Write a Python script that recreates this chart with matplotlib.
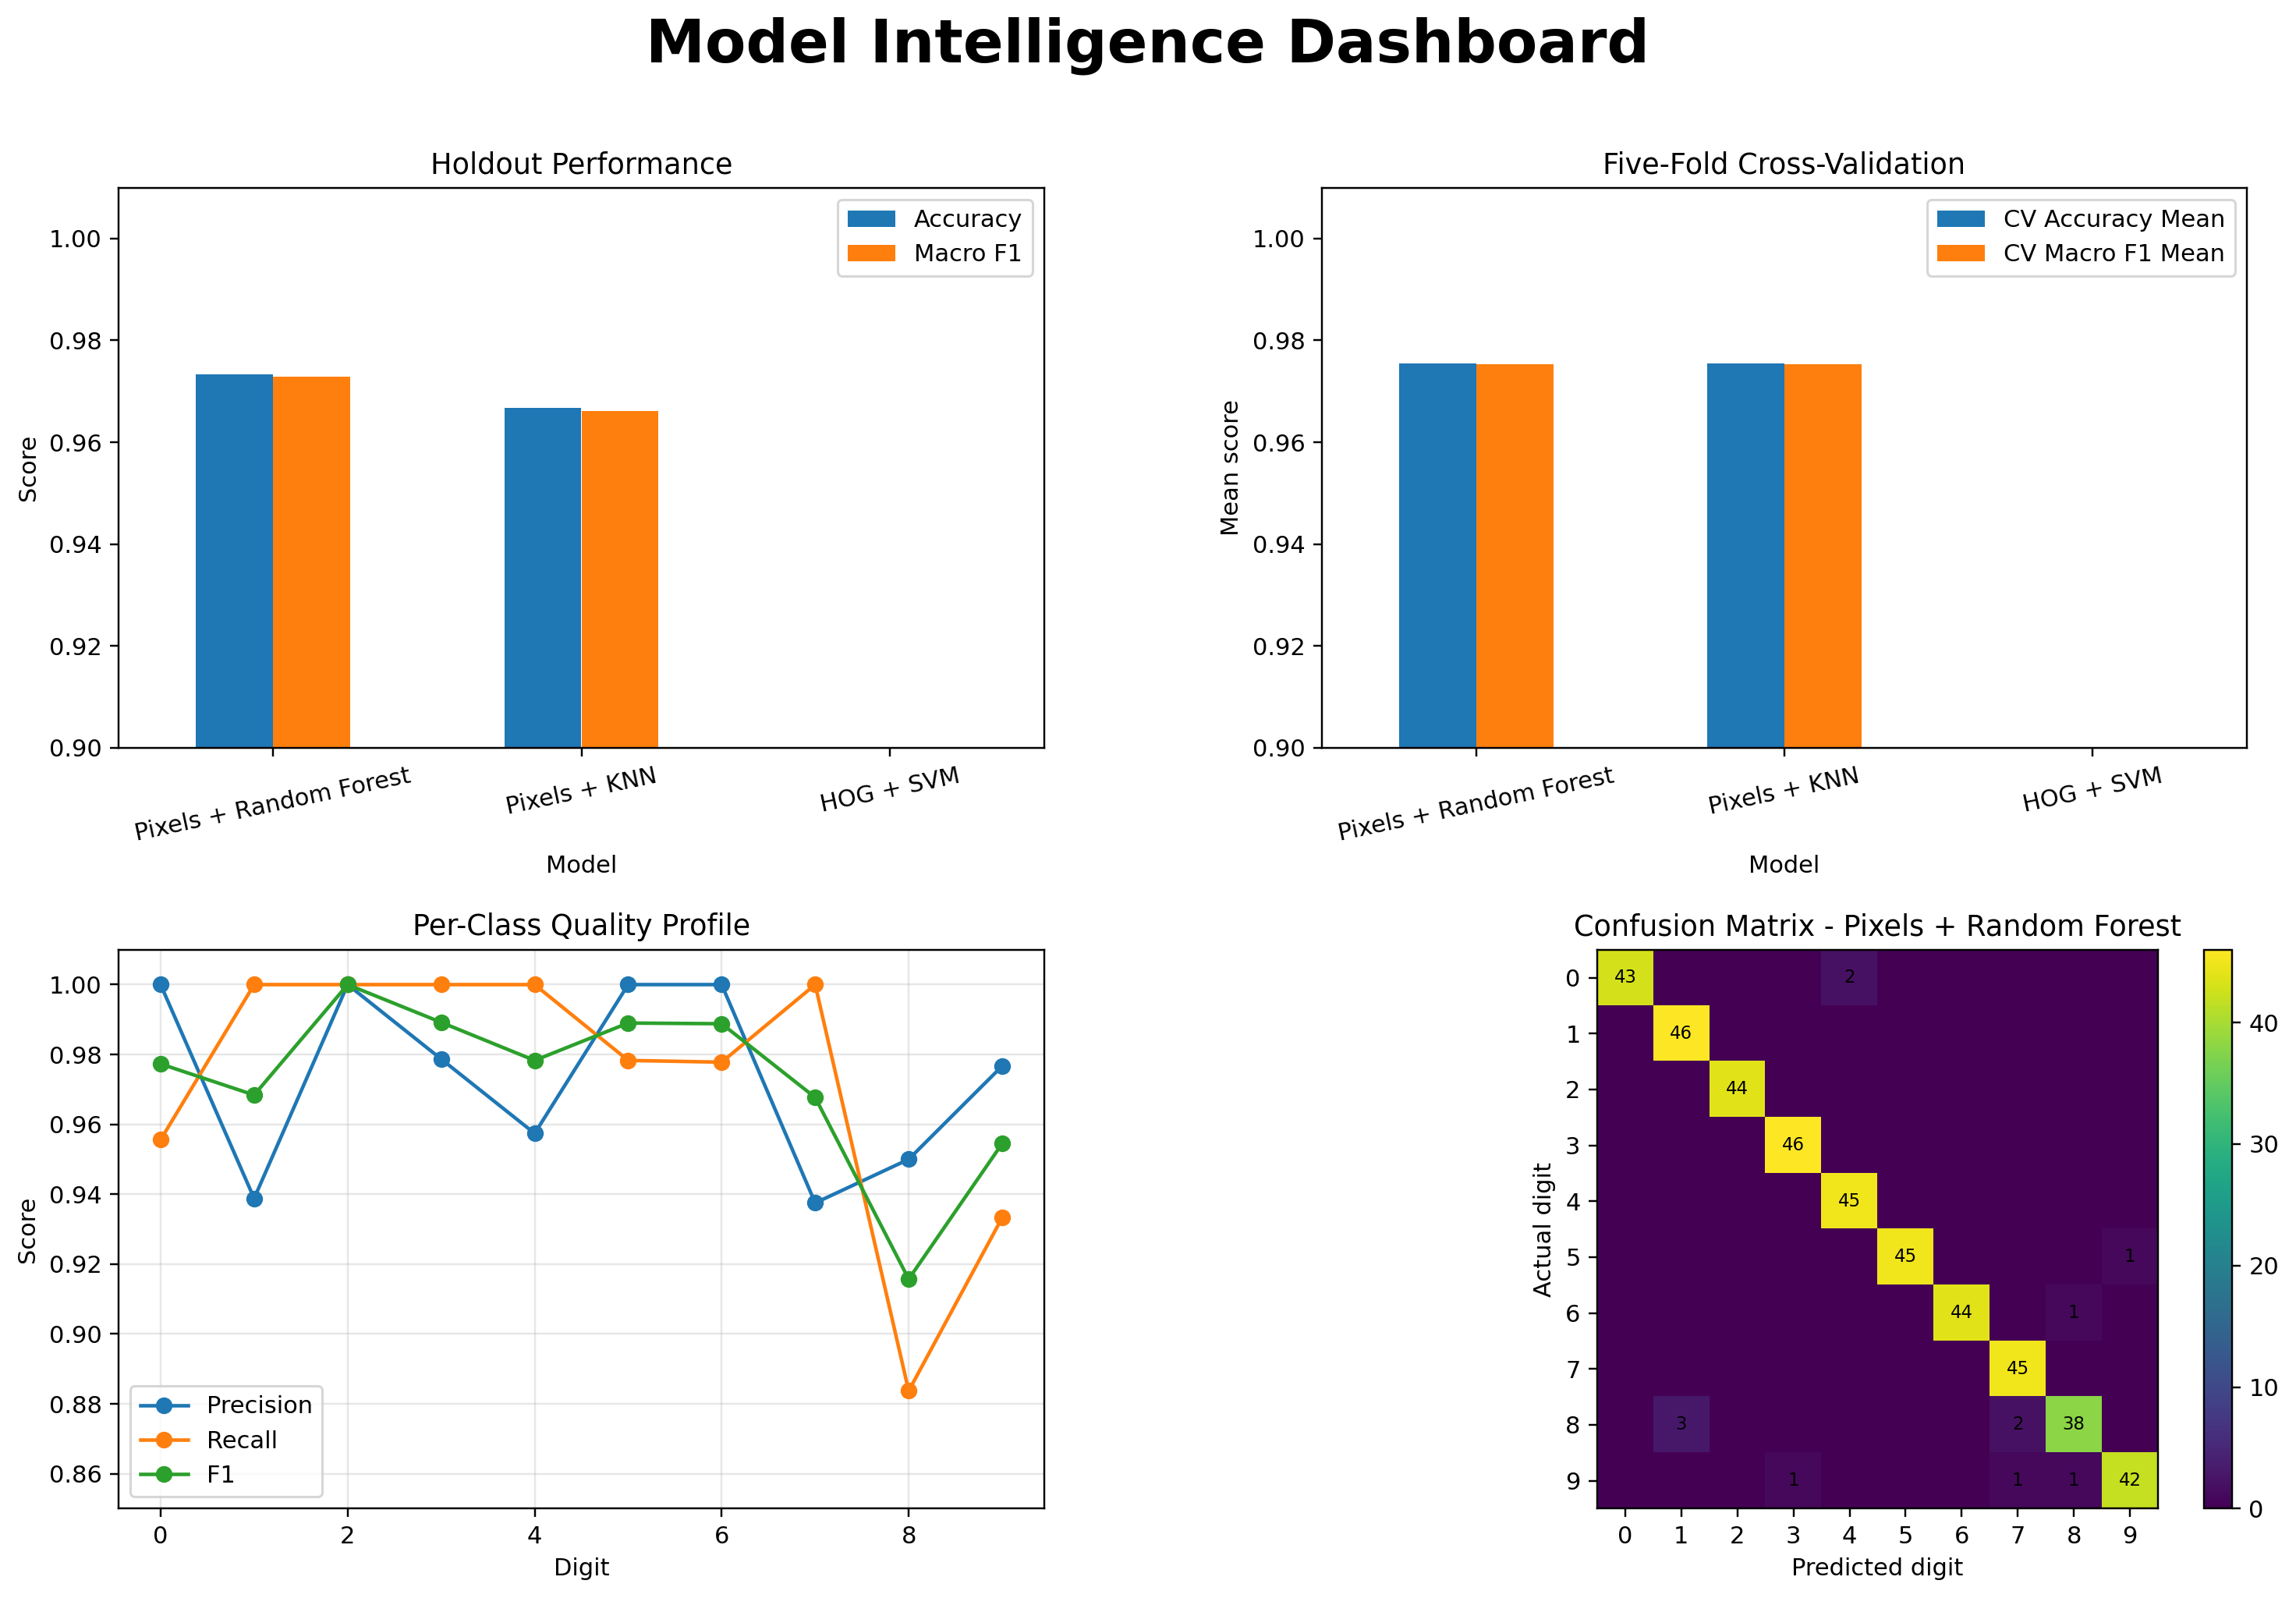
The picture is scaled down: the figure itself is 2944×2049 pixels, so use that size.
import numpy as np
import matplotlib
matplotlib.use("Agg")
import matplotlib.pyplot as plt

# ---------------- data ----------------
models = ["Pixels + Random Forest", "Pixels + KNN", "HOG + SVM"]
holdout_accuracy = [0.9733, 0.9667, np.nan]
holdout_macro_f1 = [0.9728, 0.9662, np.nan]
cv_accuracy_mean = [0.9755, 0.9755, np.nan]
cv_macro_f1_mean = [0.9753, 0.9753, np.nan]

digits = list(range(10))
precision = [1.0000, 0.9388, 1.0000, 0.9787, 0.9574, 1.0000, 1.0000, 0.9375, 0.9500, 0.9767]
recall = [0.9556, 1.0000, 1.0000, 1.0000, 1.0000, 0.9783, 0.9778, 1.0000, 0.8837, 0.9333]
f1 = [0.9773, 0.9684, 1.0000, 0.9892, 0.9783, 0.9890, 0.9888, 0.9677, 0.9157, 0.9545]

confusion = [
    [43, 0, 0, 0, 2, 0, 0, 0, 0, 0],
    [0, 46, 0, 0, 0, 0, 0, 0, 0, 0],
    [0, 0, 44, 0, 0, 0, 0, 0, 0, 0],
    [0, 0, 0, 46, 0, 0, 0, 0, 0, 0],
    [0, 0, 0, 0, 45, 0, 0, 0, 0, 0],
    [0, 0, 0, 0, 0, 45, 0, 0, 0, 1],
    [0, 0, 0, 0, 0, 0, 44, 0, 1, 0],
    [0, 0, 0, 0, 0, 0, 0, 45, 0, 0],
    [0, 3, 0, 0, 0, 0, 0, 2, 38, 0],
    [0, 0, 0, 1, 0, 0, 0, 1, 1, 42],
]

# ---------------- figure ----------------
W, H = 2944, 2049
DPI = 220
fig = plt.figure(figsize=(W / DPI, H / DPI), dpi=DPI)

def px_axes(x0, x1, y0, y1):
    return fig.add_axes([x0 / W, 1 - y1 / H, (x1 - x0) / W, (y1 - y0) / H])

ax1 = px_axes(152, 1339, 240.6, 958.7)
ax2 = px_axes(1695, 2881, 240.6, 958.7)
ax3 = px_axes(152, 1339, 1217.7, 1934.4)
ax4 = px_axes(2048, 2767, 1217.7, 1934.4)
cax = px_axes(2826, 2862, 1217.7, 1934.4)

blue, orange, green = "#1f77b4", "#ff7f0e", "#2ca02c"
bw = 0.25
x = np.arange(len(models))

def bar_panel(ax, a, b, la, lb, title, ylabel):
    ax.bar(x - bw / 2, a, width=bw, color=blue, label=la)
    ax.bar(x + bw / 2, b, width=bw, color=orange, label=lb)
    ax.set_xlim(-0.5, len(models) - 0.5)
    ax.set_ylim(0.90, 1.01)
    ax.set_yticks([0.90, 0.92, 0.94, 0.96, 0.98, 1.00])
    ax.set_xticks(x)
    ax.set_xticklabels(models, rotation=12)
    ax.set_xlabel("Model")
    ax.set_ylabel(ylabel)
    ax.set_title(title)
    ax.legend(loc="upper right")

bar_panel(ax1, holdout_accuracy, holdout_macro_f1, "Accuracy", "Macro F1",
          "Holdout Performance", "Score")
bar_panel(ax2, cv_accuracy_mean, cv_macro_f1_mean, "CV Accuracy Mean", "CV Macro F1 Mean",
          "Five-Fold Cross-Validation", "Mean score")

ax3.plot(digits, precision, marker="o", color=blue, label="Precision")
ax3.plot(digits, recall, marker="o", color=orange, label="Recall")
ax3.plot(digits, f1, marker="o", color=green, label="F1")
ax3.set_ylim(0.85, 1.01)
ax3.set_yticks([0.86, 0.88, 0.90, 0.92, 0.94, 0.96, 0.98, 1.00])
ax3.grid(True, alpha=0.3)
ax3.set_xlabel("Digit")
ax3.set_ylabel("Score")
ax3.set_title("Per-Class Quality Profile")
ax3.legend(loc="lower left")

cm = np.array(confusion)
im = ax4.imshow(cm, cmap="viridis", aspect="auto")
for i in range(cm.shape[0]):
    for j in range(cm.shape[1]):
        if cm[i, j] > 0:
            ax4.text(j, i, str(cm[i, j]), ha="center", va="center", fontsize=7.5, color="black")
ax4.set_xticks(digits)
ax4.set_yticks(digits)
ax4.set_xlabel("Predicted digit")
ax4.set_ylabel("Actual digit")
ax4.set_title("Confusion Matrix - Pixels + Random Forest")
fig.colorbar(im, cax=cax)

fig.text(0.5, 1 - 80 / H, "Model Intelligence Dashboard", ha="center", va="baseline",
         fontsize=25, fontweight="bold")

fig.savefig("out.png", dpi=DPI)
